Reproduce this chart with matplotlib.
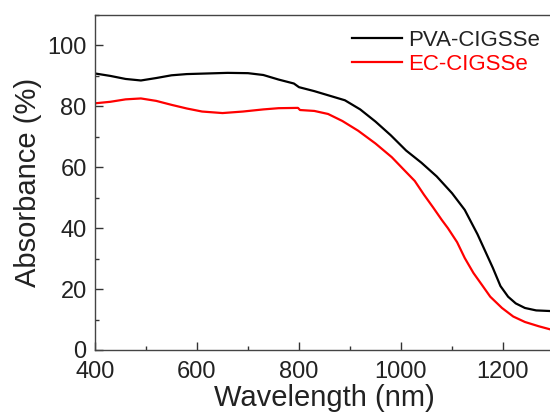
import matplotlib
matplotlib.use("Agg")
import matplotlib.pyplot as plt
from matplotlib.ticker import MultipleLocator

plt.rcParams['font.family'] = ['Liberation Sans', 'DejaVu Sans']

wl_pva = [400, 430, 460, 490, 520, 550, 580, 620, 660, 700, 730, 760, 790, 800,
          830, 860, 890, 920, 950, 980, 1010, 1040, 1070, 1100, 1125, 1150, 1165,
          1180, 1195, 1210, 1225, 1243, 1265, 1292, 1300]
abs_pva = [90.8, 90.0, 89.0, 88.5, 89.3, 90.2, 90.6, 90.8, 91.0, 90.9, 90.3, 88.8,
           87.5, 86.3, 85.0, 83.5, 82.0, 79.0, 75.0, 70.5, 65.5, 61.5, 57.0, 51.5,
           46.0, 38.0, 32.5, 27.0, 21.0, 17.5, 15.3, 13.8, 13.0, 12.8, 12.7]

wl_ec = [400, 430, 460, 490, 520, 550, 580, 610, 650, 690, 730, 760, 798, 802,
         830, 857, 885, 916, 950, 982, 1005, 1027, 1045, 1063, 1080, 1092, 1110,
         1125, 1142, 1159, 1175, 1198, 1220, 1243, 1270, 1292, 1300]
abs_ec = [81.0, 81.5, 82.3, 82.6, 81.8, 80.5, 79.3, 78.3, 77.8, 78.3, 79.0, 79.4,
          79.5, 78.8, 78.5, 77.5, 75.2, 72.0, 67.8, 63.3, 59.3, 55.5, 51.0, 46.8,
          42.7, 40.0, 35.4, 30.2, 25.3, 21.3, 17.5, 13.8, 11.0, 9.2, 7.8, 6.8, 6.5]

fig = plt.figure(figsize=(5.5, 4.16), dpi=100)
ax = fig.add_axes([95/550, 66/416, (554-95)/550, (401-66)/416])

ax.plot(wl_pva, abs_pva, color='black', lw=1.6, label='PVA-CIGSSe')
ax.plot(wl_ec, abs_ec, color='#ff0000', lw=1.6, label='EC-CIGSSe')

ax.set_xlim(400, 1300)
ax.set_ylim(0, 110)
ax.xaxis.set_major_locator(MultipleLocator(200))
ax.xaxis.set_minor_locator(MultipleLocator(100))
ax.yaxis.set_major_locator(MultipleLocator(20))
ax.yaxis.set_minor_locator(MultipleLocator(10))
ax.tick_params(which='both', direction='in', top=False, right=False,
               colors='#333333', labelcolor='#222222', width=1)
ax.tick_params(which='major', length=6, labelsize=17)
ax.tick_params(axis='x', which='major', pad=8)
ax.tick_params(axis='y', which='major', pad=6)
ax.tick_params(which='minor', length=3)
for s in ax.spines.values():
    s.set_color('#444444')
    s.set_linewidth(1)

ax.set_xlabel('Wavelength (nm)', fontsize=21, color='#222222', labelpad=1)
ax.set_ylabel('Absorbance (%)', fontsize=21, color='#222222', labelpad=4)

leg = ax.legend(loc='upper left', frameon=False, fontsize=16, handlelength=2.25,
                handletextpad=0.28, borderaxespad=0, labelspacing=0.15)
leg.set_bbox_to_anchor((343/550, 1 - 21/416), transform=fig.transFigure)
for t, c in zip(leg.get_texts(), ['#222222', '#ff0000']):
    t.set_color(c)

fig.savefig('out.png', dpi=100)
